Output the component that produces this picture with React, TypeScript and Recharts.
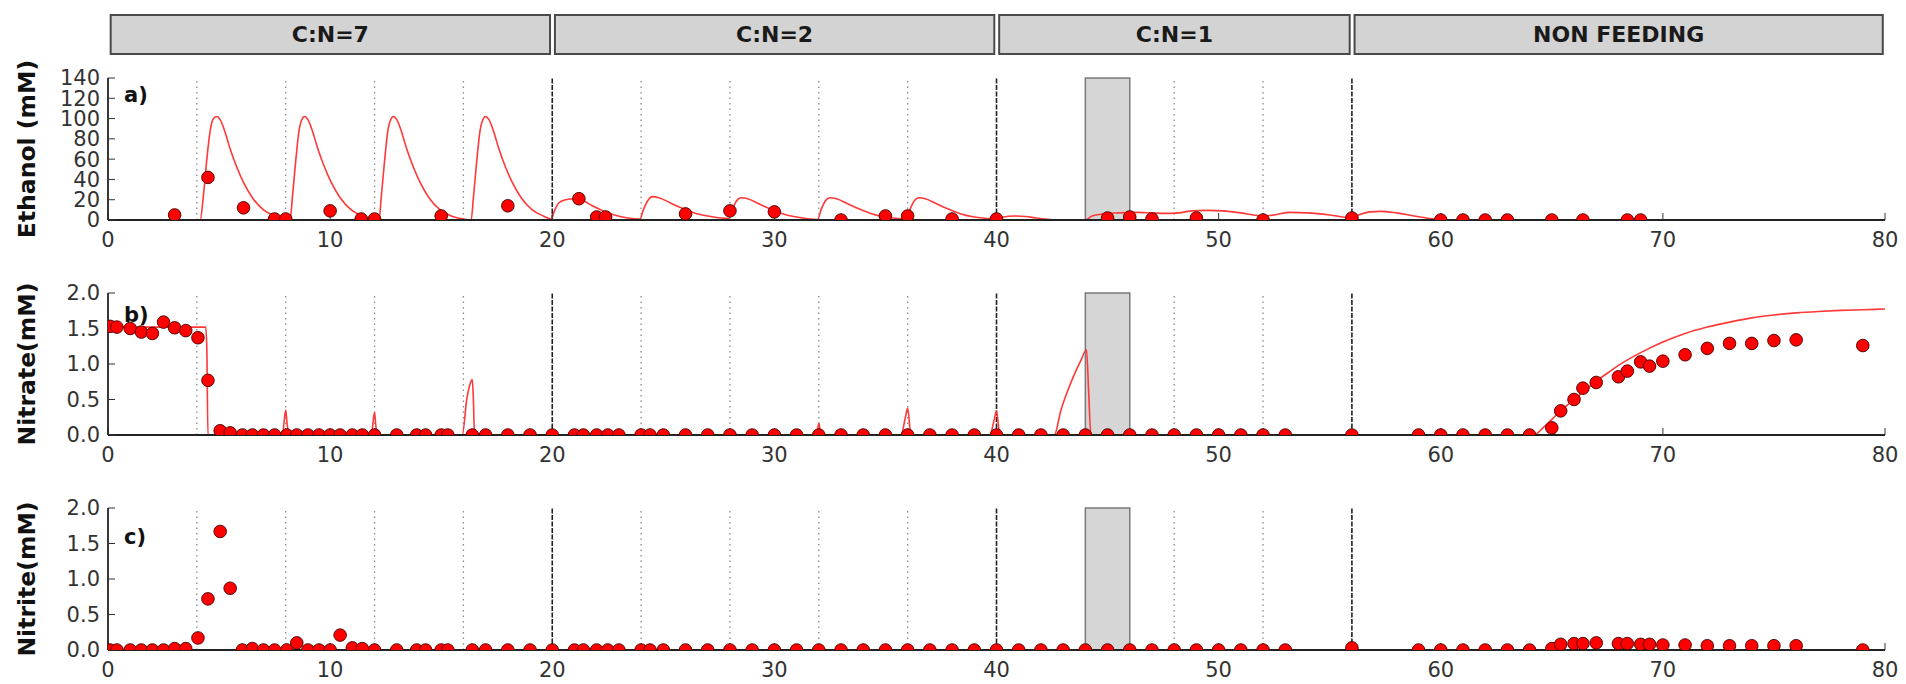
import {
  ComposedChart,
  Line,
  ReferenceArea,
  ReferenceLine,
  Scatter,
  XAxis,
  YAxis,
} from "recharts";

// feeding regimes shown in the header strip
const PHASES = ["C:N=7", "C:N=2", "C:N=1", "NON FEEDING"];
const PHASE_STARTS = [0, 20, 40, 56];
const PHASE_ENDS = [20, 40, 56, 80];

const FEED_DAYS = [4, 8, 12, 16, 24, 28, 32, 36, 48, 52];
const SWITCH_DAYS = [20, 40, 56];
const PAUSE_FROM = 44;
const PAUSE_TO = 46;

const X_TICKS = [0, 10, 20, 30, 40, 50, 60, 70, 80];
const ETHANOL_TICKS = [0, 20, 40, 60, 80, 100, 120, 140];
const N_TICKS = [0, 0.5, 1, 1.5, 2];

// measured ethanol
const ETHANOL_DAYS = [
  3, 4.5, 6.1, 7.5, 8, 10, 11.4, 12, 15, 18, 21.2, 22, 22.4, 26, 28, 30, 33, 35, 36, 38, 40,
  45, 46, 47, 49, 52, 56, 60, 61, 62, 63, 65, 66.4, 68.4, 69,
];
const ETHANOL_MM = [
  5, 42, 12, 1, 1, 9, 1, 1, 4, 14, 21, 3, 3, 6, 9, 8, 0, 4, 4, 1, 1,
  2, 3, 1, 2, 0, 2, 0, 0, 0, 0, 0, 0, 0, 0,
];

// model ethanol
const ETHANOL_MODEL_DAYS = [
  0, 4.15, 4.3, 4.45, 4.6, 4.75, 4.9, 5.05, 5.25, 5.5, 5.8, 6.1, 6.5, 7.0, 7.5, 8.0, 8.2,
  8.3, 8.45, 8.6, 8.75, 8.85, 9.0, 9.2, 9.45, 9.75, 10.05, 10.45, 10.95, 11.45, 12.0, 12.2,
  12.3, 12.45, 12.6, 12.75, 12.85, 13.0, 13.2, 13.45, 13.75, 14.05, 14.45, 14.95, 15.45, 16.0, 16.35,
  16.45, 16.6, 16.75, 16.9, 17.0, 17.15, 17.35, 17.6, 17.9, 18.2, 18.6, 19.1, 19.6, 19.95,
  20.1, 20.3, 20.6, 21.0, 21.4, 21.8, 22.3, 22.8, 23.4, 23.95,
  24.1, 24.3, 24.5, 24.8, 25.3, 25.8, 26.4, 27.0, 27.6, 27.95,
  28.1, 28.3, 28.5, 28.8, 29.3, 29.8, 30.4, 31.0, 31.6, 31.95,
  32.1, 32.3, 32.5, 32.8, 33.3, 33.8, 34.4, 35.0, 35.6, 35.95,
  36.1, 36.3, 36.5, 36.8, 37.3, 37.8, 38.4, 39.0, 39.6, 40.0,
  40.3, 40.8, 41.3, 41.8, 42.4, 43.0, 44.0,
  44.3, 44.8, 45.5, 46.3, 47.0, 47.6, 48.2, 48.8, 49.5, 50.2, 51.0, 52.0, 52.5, 53.2, 54.0, 55.0, 56.0,
  56.3, 56.8, 57.3, 58.0, 58.8, 59.5, 60.2, 80,
];
const ETHANOL_MODEL_MM = [
  0, 0, 25, 60, 88, 100, 102, 99, 88, 70, 52, 37, 22, 10, 4, 1, 0,
  22, 58, 88, 100, 102, 99, 88, 70, 52, 37, 22, 10, 4, 1, 0,
  22, 58, 88, 100, 102, 99, 88, 70, 52, 37, 22, 10, 4, 1, 0,
  22, 58, 88, 100, 102, 99, 88, 70, 52, 37, 22, 10, 4, 1,
  9, 17, 20, 21, 19, 14, 9, 5, 2, 1,
  10, 19, 23, 22, 17, 12, 7, 4, 2, 1.5,
  10, 19, 22, 21, 16, 11, 6, 3, 1, 0.5,
  10, 19, 22, 21, 16, 11, 6, 3, 1.5, 1,
  10, 19, 22, 21, 16, 11, 6, 3, 1.5, 1,
  3, 4, 3.5, 2, 0.5, 0, 0,
  4, 6, 7, 7.5, 7, 6.5, 7, 9, 9.5, 9, 7, 4, 5, 7.5, 7, 5, 2,
  5, 8, 8.5, 7, 4, 1.5, 0, 0,
];

// nitrogen samples (nitrate and nitrite share sampling days)
const SAMPLE_DAYS = [
  0.1, 0.4, 1.0, 1.5, 2.0, 2.5, 3.0, 3.5, 4.05, 4.5,
  5.05, 5.5, 6.05, 6.5, 7.0, 7.5, 8.05, 8.5, 9.0, 9.5,
  10.0, 10.45, 11.0, 11.45, 12.0, 13.0, 13.9, 14.3, 15.0, 15.3,
  16.4, 17.0, 18.0, 19.0, 20.0, 21.0, 21.4, 22.0, 22.5, 23.0,
  24.0, 24.4, 25.0, 26.0, 27.0, 28.0, 29.0, 30.0, 31.0, 32.0,
  33, 34, 35, 36, 37, 38, 39, 40, 41, 42,
  43, 44, 45, 46, 47, 48, 49, 50, 51, 52,
  53, 56, 59, 60, 61, 62, 63, 64, 65, 65.4,
  66, 66.4, 67, 68, 68.4, 69, 69.4, 70, 71, 72,
  73, 74, 75, 76, 79,
];
const NITRATE_MM = [
  1.53, 1.52, 1.5, 1.45, 1.43, 1.59, 1.51, 1.47, 1.37, 0.77,
  0.06, 0.03, 0, 0, 0, 0, 0, 0, 0, 0,
  0, 0, 0, 0, 0, 0, 0, 0, 0, 0,
  0, 0, 0, 0, 0, 0, 0, 0, 0, 0,
  0, 0, 0, 0, 0, 0, 0, 0, 0, 0,
  0, 0, 0, 0, 0, 0, 0, 0, 0, 0,
  0, 0, 0, 0, 0, 0, 0, 0, 0, 0,
  0, 0, 0, 0, 0, 0, 0, 0, 0.1, 0.34,
  0.5, 0.66, 0.74, 0.82, 0.9, 1.03, 0.97, 1.04, 1.13, 1.22,
  1.29, 1.29, 1.33, 1.34, 1.26,
];
const NITRITE_MM = [
  0, 0, 0, 0, 0, 0, 0.02, 0.02, 0.17, 0.72,
  1.67, 0.87, 0, 0.02, 0, 0, 0, 0.1, 0, 0,
  0, 0.21, 0.03, 0.02, 0, 0, 0, 0, 0, 0,
  0, 0, 0, 0, 0, 0, 0, 0, 0, 0,
  0, 0, 0, 0, 0, 0, 0, 0, 0, 0,
  0, 0, 0, 0, 0, 0, 0, 0, 0, 0,
  0, 0, 0, 0, 0, 0, 0, 0, 0, 0,
  0, 0.03, 0, 0, 0, 0, 0, 0, 0.02, 0.08,
  0.09, 0.09, 0.1, 0.09, 0.09, 0.08, 0.08, 0.07, 0.07, 0.06,
  0.06, 0.06, 0.06, 0.06, 0,
];

// model nitrate
const NITRATE_MODEL_DAYS = [
  0, 4.4, 4.45, 4.5, 7.85, 8.0, 8.05, 8.15, 11.85, 12.0, 12.05, 12.15,
  15.95, 16.15, 16.3, 16.4, 16.45, 16.5, 31.9, 32.0, 32.1,
  35.7, 35.9, 36.0, 36.15, 39.7, 39.9, 40.0, 40.15,
  42.6, 42.9, 43.2, 43.5, 43.8, 44.05, 44.15, 44.25,
  64.2, 64.6, 65.0, 65.5, 66.0, 66.5, 67.0, 67.5, 68.0, 69.0, 70.0, 71.0, 72.0,
  73.0, 74.0, 75.0, 76.0, 77.0, 78.0, 79.0, 80.0,
];
const NITRATE_MODEL_MM = [
  1.52, 1.52, 1.2, 0, 0, 0.35, 0.2, 0, 0, 0.32, 0.15, 0,
  0, 0.5, 0.72, 0.78, 0.5, 0, 0, 0.17, 0,
  0, 0.25, 0.38, 0, 0, 0.22, 0.34, 0,
  0, 0.35, 0.62, 0.85, 1.05, 1.2, 0.6, 0,
  0, 0.1, 0.22, 0.37, 0.5, 0.63, 0.76, 0.87, 0.98, 1.16, 1.31, 1.43, 1.52,
  1.59, 1.65, 1.69, 1.72, 1.74, 1.755, 1.765, 1.775,
];

type Pt = { x: number; y: number };
const zip = (xs: number[], ys: number[]): Pt[] => xs.map((x, i) => ({ x, y: ys[i] }));

const WIDTH = 1906;
const HEIGHT = 684;
const PANEL_H = 262;
const MARGIN = { top: 78, right: 21, bottom: 0, left: 8 };
const Y_AXIS_W = 100;
const X_AXIS_H = 42;
// plot rectangle inside each panel svg (used to clip the markers like matplotlib does)
const PLOT_LEFT = MARGIN.left + Y_AXIS_W;
const PLOT_TOP = MARGIN.top;
const PLOT_W = WIDTH - MARGIN.right - PLOT_LEFT;
const PLOT_H = PANEL_H - MARGIN.bottom - X_AXIS_H - PLOT_TOP;

const FONT = "DejaVu Sans";
const TICK_STYLE = { fill: "#333", fontSize: 21, fontFamily: FONT };
const SPINE = { stroke: "#222", strokeWidth: 1.8 };
const RED = "#ff0000";

function RedDot(props: any) {
  if (props.cx == null || props.cy == null) return null;
  return (
    <circle
      cx={props.cx}
      cy={props.cy}
      r={6.3}
      fill={RED}
      stroke="#400"
      strokeWidth={0.9}
      clipPath="url(#plot-clip)"
    />
  );
}

function axisTitle(text: string) {
  return (props: any) => {
    const vb = props.viewBox || { x: MARGIN.left, y: PLOT_TOP, width: Y_AXIS_W, height: PLOT_H };
    const cx = vb.x + 19;
    const cy = vb.y + vb.height / 2;
    return (
      <text
        x={cx}
        y={cy}
        transform={`rotate(-90 ${cx} ${cy})`}
        textAnchor="middle"
        dominantBaseline="central"
        fontFamily={FONT}
        fontWeight="bold"
        fontSize={23.5}
        fill="#111"
      >
        {text}
      </text>
    );
  };
}

type PanelProps = {
  top: number;
  tag: string;
  tagTop: number;
  title: string;
  yMax: number;
  yTicks: number[];
  decimals: number;
  dots: Pt[];
  model?: Pt[];
};

function Panel({ top, tag, tagTop, title, yMax, yTicks, decimals, dots, model }: PanelProps) {
  return (
    <div style={{ position: "absolute", left: 0, top, width: WIDTH, height: PANEL_H }}>
      <ComposedChart width={WIDTH} height={PANEL_H} margin={MARGIN}>
        <XAxis
          type="number"
          dataKey="x"
          domain={[0, 80]}
          ticks={X_TICKS}
          interval={0}
          allowDataOverflow
          height={X_AXIS_H}
          tick={TICK_STYLE}
          tickSize={-7}
          tickMargin={19}
          tickLine={{ stroke: "#333" }}
          axisLine={SPINE}
        />
        <XAxis
          xAxisId="top"
          orientation="top"
          type="number"
          domain={[0, 80]}
          ticks={X_TICKS}
          interval={0}
          allowDataOverflow
          height={0}
          tickFormatter={() => ""}
          tickSize={-7}
          tickLine={{ stroke: "#333" }}
          axisLine={SPINE}
        />
        <YAxis
          type="number"
          domain={[0, yMax]}
          ticks={yTicks}
          interval={0}
          allowDataOverflow
          width={Y_AXIS_W}
          tick={TICK_STYLE}
          tickFormatter={(v: number) => v.toFixed(decimals)}
          tickSize={-7}
          tickMargin={15}
          tickLine={{ stroke: "#333" }}
          axisLine={SPINE}
          label={axisTitle(title)}
        />
        <YAxis
          yAxisId="right"
          orientation="right"
          type="number"
          domain={[0, yMax]}
          ticks={yTicks}
          interval={0}
          allowDataOverflow
          width={0}
          tickFormatter={() => ""}
          tickSize={-7}
          tickLine={{ stroke: "#333" }}
          axisLine={SPINE}
        />
        <ReferenceArea
          x1={PAUSE_FROM}
          x2={PAUSE_TO}
          fill="#d6d6d6"
          fillOpacity={1}
          stroke="#7a7a7a"
          strokeWidth={1.5}
        />
        {FEED_DAYS.map((d) => (
          <ReferenceLine key={d} x={d} stroke="#8a8a8a" strokeDasharray="1.5 4" strokeWidth={1.3} />
        ))}
        {SWITCH_DAYS.map((d) => (
          <ReferenceLine key={d} x={d} stroke="#222" strokeDasharray="5 1.5" strokeWidth={1.6} />
        ))}
        {model ? (
          <Line
            data={model}
            dataKey="y"
            type="monotone"
            stroke="#ff3838"
            strokeWidth={1.6}
            dot={false}
            activeDot={false}
            isAnimationActive={false}
          />
        ) : null}
        <Scatter data={dots} dataKey="y" shape={RedDot} isAnimationActive={false} />
      </ComposedChart>
      <div
        style={{
          position: "absolute",
          left: 124,
          top: tagTop,
          fontFamily: FONT,
          fontWeight: "bold",
          fontSize: 21,
          lineHeight: 1,
          color: "#111",
        }}
      >
        {tag}
      </div>
    </div>
  );
}

function Header() {
  return (
    <div style={{ position: "absolute", left: 0, top: 0, width: WIDTH, height: 62 }}>
      <ComposedChart width={WIDTH} height={62} margin={{ top: 15, right: 21, bottom: 8, left: 108 }}>
        <XAxis type="number" dataKey="x" domain={[0, 80]} allowDataOverflow hide />
        <YAxis type="number" domain={[0, 1]} allowDataOverflow hide />
        {PHASES.map((name, i) => (
          <ReferenceArea
            key={name}
            x1={PHASE_STARTS[i] + 0.12}
            x2={PHASE_ENDS[i] - 0.1}
            y1={0}
            y2={1}
            fill="#d3d3d3"
            fillOpacity={1}
            stroke="#4a4a4a"
            strokeWidth={2}
            label={{
              value: name,
              position: "center",
              fill: "#1a1a1a",
              fontSize: 22,
              fontWeight: "bold",
              fontFamily: FONT,
            }}
          />
        ))}
      </ComposedChart>
    </div>
  );
}

export default function App() {
  const ethanolDots = zip(ETHANOL_DAYS, ETHANOL_MM);
  const ethanolModel = zip(ETHANOL_MODEL_DAYS, ETHANOL_MODEL_MM);
  const nitrateDots = zip(SAMPLE_DAYS, NITRATE_MM);
  const nitrateModel = zip(NITRATE_MODEL_DAYS, NITRATE_MODEL_MM);
  const nitriteDots = zip(SAMPLE_DAYS, NITRITE_MM);

  return (
    <div
      style={{
        position: "fixed",
        left: 0,
        top: 0,
        width: WIDTH,
        height: HEIGHT,
        overflow: "hidden",
        background: "#fff",
      }}
    >
      <svg width={0} height={0} style={{ position: "absolute" }}>
        <defs>
          <clipPath id="plot-clip" clipPathUnits="userSpaceOnUse">
            <rect x={PLOT_LEFT} y={PLOT_TOP} width={PLOT_W} height={PLOT_H} />
          </clipPath>
        </defs>
      </svg>
      <Header />
      <Panel
        top={0}
        tag="a)"
        tagTop={85}
        title="Ethanol (mM)"
        yMax={140}
        yTicks={ETHANOL_TICKS}
        decimals={0}
        dots={ethanolDots}
        model={ethanolModel}
      />
      <Panel
        top={215}
        tag="b)"
        tagTop={90}
        title="Nitrate(mM)"
        yMax={2}
        yTicks={N_TICKS}
        decimals={1}
        dots={nitrateDots}
        model={nitrateModel}
      />
      <Panel
        top={430}
        tag="c)"
        tagTop={97}
        title="Nitrite(mM)"
        yMax={2}
        yTicks={N_TICKS}
        decimals={1}
        dots={nitriteDots}
      />
    </div>
  );
}
